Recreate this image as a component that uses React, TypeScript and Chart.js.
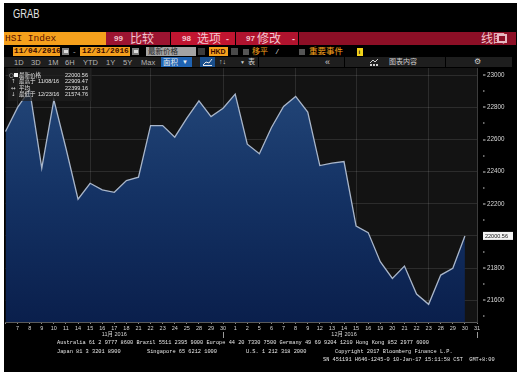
import React, { useEffect, useRef } from 'react';
import { Chart, registerables } from 'chart.js';

Chart.register(...registerables);

// ---------- data ----------
const dates = [
  '11/04', '11/07', '11/08', '11/09', '11/10', '11/11', '11/14', '11/15', '11/16', '11/17',
  '11/18', '11/21', '11/22', '11/23', '11/24', '11/25', '11/28', '11/29', '11/30', '12/01',
  '12/02', '12/05', '12/06', '12/07', '12/08', '12/09', '12/12', '12/13', '12/14', '12/15',
  '12/16', '12/19', '12/20', '12/21', '12/22', '12/23', '12/28', '12/29', '12/30', '12/31',
];
const closes: (number | null)[] = [
  22650, 22800, 22909, 22422, 22847, 22546, 22229, 22328, 22287, 22272,
  22345, 22366, 22687, 22687, 22615, 22733, 22841, 22743, 22795, 22883,
  22571, 22511, 22675, 22806, 22868, 22771, 22438, 22453, 22463, 22062,
  22021, 21840, 21736, 21813, 21639, 21575, 21757, 21799, 22000.56, null,
];
const monthLabels: Record<string, string> = { '11/17': '11月 2016', '12/14': '12月 2016' };
const gridDates = ['11/07', '11/15', '11/22', '11/30', '12/08', '12/15', '12/23', '12/31'];
const monthSepDates = ['11/30', '12/31'];
const yMin = 21465;
const yMax = 23045;
const yMinorStep = 100;
const yMajorStep = 200;
const lastValueLabel = '22000.56';

const legendIcons = ['○', '↑', '↔', '↓'];
const legendNames = ['最新价格', '最高于', '平均', '最低于'];
const legendDates = ['', '11/08/16', '', '12/23/16'];
const legendValues = ['22000.56', '22909.47', '22399.16', '21574.76'];

const periodButtons = ['1D', '3D', '1M', '6H', 'YTD', '1Y', '5Y', 'Max'];
const periodX = [14, 31, 48, 65, 83, 106, 123, 141];

const footer1 = 'Australia 61 2 9777 8600 Brazil 5511 2395 9000 Europe 44 20 7330 7500 Germany 49 69 9204 1210 Hong Kong 852 2977 6000';
const footer2 = [
  ['Japan 81 3 3201 8900', 57],
  ['Singapore 65 6212 1000', 147],
  ['U.S. 1 212 318 2000', 246],
  ['Copyright 2017 Bloomberg Finance L.P.', 335],
] as [string, number][];
const footer3 = 'SN 451191 H646-1245-0 10-Jan-17 15:11:58 CST  GMT+8:00';

// ---------- fonts / colors ----------
const SANS = '"Liberation Sans", "Noto Sans CJK SC", Arial, sans-serif';
const MONO = '"Liberation Mono", "DejaVu Sans Mono", "Noto Sans CJK SC", monospace';
const ORANGE = '#f5a01c';

const Box = ({ x, y, w, h, bg, style }: any) => (
  <div style={{ position: 'absolute', left: x, top: y, width: w, height: h, background: bg, ...style }} />
);

const Txt = ({ x, y, size, color, family, weight, children, w, align, style }: any) => (
  <div
    style={{
      position: 'absolute',
      left: x,
      top: y - size,
      height: size * 2,
      lineHeight: `${size * 2}px`,
      fontSize: size,
      color,
      fontFamily: family || SANS,
      fontWeight: weight || 'normal',
      whiteSpace: 'pre',
      width: w,
      textAlign: align,
      ...style,
    }}
  >
    {children}
  </div>
);

const chartPlugin = {
  id: 'bbgDecor',
  beforeDraw(chart: any) {
    const { ctx, chartArea: a } = chart;
    ctx.save();
    ctx.fillStyle = '#000';
    ctx.fillRect(0, 0, chart.width, chart.height);
    ctx.fillStyle = '#131313';
    ctx.fillRect(a.left, a.top, a.right - a.left, a.bottom - a.top);
    ctx.restore();
  },
  afterDraw(chart: any) {
    const { ctx, chartArea: a } = chart;
    const y = chart.scales.y;
    const x = chart.scales.x;
    ctx.save();
    // small tick dashes on right axis
    ctx.fillStyle = '#cfcfcf';
    y.ticks.forEach((t: any) => {
      const py = y.getPixelForValue(t.value);
      const major = t.value % yMajorStep === 0;
      ctx.fillRect(a.right + 6, Math.round(py) - 0.5, major ? 2.5 : 1.5, 1);
    });
    // month separators
    ctx.strokeStyle = '#9a9a9a';
    ctx.lineWidth = 1;
    monthSepDates.forEach((d) => {
      const i = dates.indexOf(d);
      const px = Math.round(x.getPixelForValue(i)) + 0.5;
      ctx.beginPath();
      ctx.moveTo(px, a.bottom + 10);
      ctx.lineTo(px, a.bottom + 16);
      ctx.stroke();
    });
    // last value box
    const lastIdx = closes.length - 2;
    const v = closes[lastIdx] as number;
    const py = y.getPixelForValue(v);
    ctx.fillStyle = '#f4f4f4';
    ctx.fillRect(a.right + 6, py - 4, 30, 8);
    ctx.fillStyle = '#111';
    ctx.font = '5.5px "Liberation Sans", Arial, sans-serif';
    ctx.textBaseline = 'middle';
    ctx.textAlign = 'left';
    ctx.fillText(lastValueLabel, a.right + 8, py + 0.5);
    ctx.restore();
  },
};

function PriceChart() {
  const ref = useRef<HTMLCanvasElement>(null);
  useEffect(() => {
    const canvas = ref.current!;
    const gridColor = 'rgba(255,255,255,0.11)';
    const chart = new Chart(canvas, {
      type: 'line',
      data: {
        labels: dates,
        datasets: [
          {
            data: closes,
            borderColor: '#a9b6ca',
            borderWidth: 1.3,
            pointRadius: 0,
            tension: 0,
            spanGaps: false,
            fill: 'start',
            backgroundColor: (c: any) => {
              const ch = c.chart;
              const a = ch.chartArea;
              if (!a) return '#163462';
              const g = ch.ctx.createLinearGradient(0, a.top, 0, a.bottom);
              g.addColorStop(0, '#25497b');
              g.addColorStop(0.5, '#143264');
              g.addColorStop(1, '#0a1f4c');
              return g;
            },
          },
        ],
      },
      options: {
        responsive: false,
        animation: false,
        devicePixelRatio: 1,
        layout: { padding: { left: 1.5, top: 1, right: 0, bottom: 0 } },
        plugins: { legend: { display: false }, tooltip: { enabled: false } },
        scales: {
          x: {
            type: 'category',
            offset: false,
            z: 1,
            grid: {
              offset: false,
              color: (c: any) => (gridDates.includes(dates[c.index]) ? gridColor : 'rgba(0,0,0,0)'),
              drawTicks: true,
              tickLength: 2,
              tickColor: '#8a8a8a',
            },
            border: { color: '#5a5a5a' },
            ticks: {
              autoSkip: false,
              maxRotation: 0,
              minRotation: 0,
              padding: 1,
              color: '#d4d4d4',
              font: { family: '"Liberation Sans", "Noto Sans CJK SC", sans-serif', size: 5.5, lineHeight: 1.1 },
              callback: (_v: any, i: number) => {
                if (i === 0) return '';
                const d = dates[i];
                const day = String(parseInt(d.slice(3), 10));
                return monthLabels[d] ? [day, monthLabels[d]] : day;
              },
            },
            afterFit: (s: any) => {
              s.height = 18;
              s.paddingLeft = 0;
              s.paddingRight = 0;
            },
          },
          y: {
            position: 'right',
            min: yMin,
            max: yMax,
            z: 1,
            grid: {
              color: (c: any) => (c.tick && c.tick.value % yMajorStep === 0 ? gridColor : 'rgba(0,0,0,0)'),
              drawTicks: false,
            },
            border: { color: '#3c3c3c' },
            ticks: {
              stepSize: yMinorStep,
              includeBounds: false,
              autoSkip: false,
              padding: 10,
              color: '#d8d8d8',
              font: { family: '"Liberation Sans", Arial, sans-serif', size: 6.3 },
              callback: (v: any) => (Number(v) % yMajorStep === 0 ? String(v) : ''),
            },
            afterFit: (s: any) => {
              s.width = 40;
              s.paddingTop = 0;
              s.paddingBottom = 0;
            },
          },
        },
      },
      plugins: [chartPlugin],
    } as any);
    return () => chart.destroy();
  }, []);
  return <canvas ref={ref} width={513} height={273} style={{ position: 'absolute', left: 4, top: 67, width: 513, height: 273 }} />;
}

export default function App() {
  return (
    <div style={{ position: 'fixed', left: 0, top: 0, width: 520, height: 375, background: '#fff', overflow: 'hidden' }}>
      <Box x={4} y={3} w={513} h={369} bg="#000" />

      {/* title */}
      <Txt x={13} y={13.5} size={13} color="#e2e2e2" style={{ transform: 'scaleX(0.72)', transformOrigin: 'left center' }}>GRAB</Txt>

      {/* row 1 */}
      <Box x={4} y={32} w={102} h={13} bg={ORANGE} />
      <Txt x={5} y={38.5} size={9.5} family={MONO} color="#5a1000">HSI Index</Txt>
      <Box x={106} y={32} w={64} h={13} bg="#9c1431" />
      <Txt x={114} y={38.5} size={8} color="#f2c6cf" weight="bold">99</Txt>
      <Txt x={130} y={38.5} size={12} color="#f2c6cf">比较</Txt>
      <Box x={171} y={32} w={64} h={13} bg="#c01530" />
      <Txt x={182} y={38.5} size={8} color="#f2c6cf" weight="bold">98</Txt>
      <Txt x={197} y={38.5} size={12} color="#f2c6cf">选项</Txt>
      <Txt x={226} y={38.5} size={9} color="#f2c6cf" weight="bold">-</Txt>
      <Box x={236} y={32} w={62} h={13} bg="#b0132e" />
      <Txt x={246} y={38.5} size={8} color="#f2c6cf" weight="bold">97</Txt>
      <Txt x={257} y={38.5} size={12} color="#f2c6cf">修改</Txt>
      <Txt x={292} y={38.5} size={9} color="#f2c6cf" weight="bold">-</Txt>
      <Box x={299} y={32} w={217} h={13} bg="#8d0f26" />
      <Txt x={481} y={38.5} size={12} color="#f2c6cf">线图</Txt>
      <Box x={497} y={34} w={10} h={9} bg="#e6b9c2" />
      <Box x={499} y={36} w={6} h={5} bg="#8d0f26" />

      {/* row 2 */}
      <Box x={13} y={47} w={47} h={9} bg={ORANGE} />
      <Txt x={14} y={51.5} size={7.8} family={MONO} weight="bold" color="#3a0a00">11/04/2016</Txt>
      <Box x={62} y={48} w={7} h={7} bg="#808080" />
      <Box x={63.5} y={50} w={4} h={3} bg="#ddd" />
      <Txt x={73} y={51.5} size={8} color="#aaa">-</Txt>
      <Box x={80} y={47} w={50} h={9} bg={ORANGE} />
      <Txt x={82} y={51.5} size={7.8} family={MONO} weight="bold" color="#3a0a00">12/31/2016</Txt>
      <Box x={132} y={48} w={7} h={7} bg="#808080" />
      <Box x={133.5} y={50} w={4} h={3} bg="#ddd" />
      <Box x={146} y={47} w={50} h={9} bg="#a4a4a4" />
      <Txt x={148} y={51.5} size={7.5} color="#2a2a2a">最新价格</Txt>
      <Box x={198} y={48} w={7} h={7} bg="#3c3c3c" />
      <Box x={209} y={47} w={19} h={9} bg={ORANGE} />
      <Txt x={210.5} y={51.5} size={7} weight="bold" color="#3a0a00">HKD</Txt>
      <Box x={231} y={48} w={7} h={7} bg="#4a4a4a" />
      <Box x={243} y={48.5} w={6} h={6} bg="#555" />
      <Txt x={252} y={51.5} size={8} color={ORANGE}>移平</Txt>
      <Txt x={276} y={51.5} size={8} color="#ddd" style={{ fontStyle: 'italic' }}>/</Txt>
      <Box x={299} y={48.5} w={6} h={6} bg="#555" />
      <Txt x={309} y={51.5} size={8.5} color={ORANGE}>重要事件</Txt>
      <Box x={357} y={47.5} w={6} h={8} bg="#f2d21a" />
      <Txt x={358.5} y={51.5} size={6} weight="bold" color="#222">i</Txt>

      {/* row 3 */}
      <Box x={4} y={57} w={254} h={10} bg="#1e1e1e" />
      {periodButtons.map((b, i) => (
        <Txt key={b} x={periodX[i]} y={62} size={7.5} color="#b4b4b4">{b}</Txt>
      ))}
      <Box x={161} y={57} w={31} h={10} bg="#1f63b2" />
      <Txt x={163} y={62} size={7.5} color="#f0f0f0">面积</Txt>
      <Txt x={182} y={62} size={6} color="#f0f0f0">▼</Txt>
      <Box x={200} y={57} w={15} h={10} bg="#1a4f8c" />
      <svg style={{ position: 'absolute', left: 200, top: 57 }} width={15} height={10}>
        <polyline points="3,8 6,5 9,6 12,2" fill="none" stroke="#e8e8e8" strokeWidth={1} />
        <line x1={3} y1={8.5} x2={12} y2={8.5} stroke="#e8e8e8" strokeWidth={1} />
      </svg>
      <Txt x={219} y={62} size={7} color="#d8d8d8">↑↓</Txt>
      <Txt x={240} y={62} size={5} color="#cfcfcf">▼</Txt>
      <Txt x={248} y={62} size={7} color="#cfcfcf">表</Txt>
      <Box x={259} y={57} w={85} h={10} bg="#1e1e1e" />
      <Txt x={325} y={61.5} size={9} color="#cfcfcf">«</Txt>
      <Box x={345} y={57} w={100} h={10} bg="#1e1e1e" />
      <svg style={{ position: 'absolute', left: 369, top: 58 }} width={10} height={8}>
        <polyline points="1,5 4,2 6,4 9,1" fill="none" stroke="#cfcfcf" strokeWidth={1} />
        <rect x={1} y={6} width={2} height={2} fill="#cfcfcf" />
        <rect x={4} y={6} width={2} height={2} fill="#cfcfcf" />
        <rect x={7} y={6} width={2} height={2} fill="#cfcfcf" />
      </svg>
      <Txt x={389} y={62} size={7} color="#cfcfcf">图表内容</Txt>
      <Box x={446} y={57} w={66} h={10} bg="#1e1e1e" />
      <Txt x={474} y={62} size={8} color="#cfcfcf" family='"DejaVu Sans", sans-serif'>⚙</Txt>

      {/* chart */}
      <PriceChart />

      {/* legend overlay */}
      <Box x={8} y={68} w={84} h={33} bg="rgba(30,30,30,0.72)" />
      {legendNames.map((n, i) => {
        const yc = 75 + i * 6.6;
        return (
          <React.Fragment key={n}>
            <Txt x={i === 0 ? 9 : 11} y={yc} size={5.5} color="#d8d8d8" family='"DejaVu Sans", sans-serif'>{legendIcons[i]}</Txt>
            {i === 0 && <Box x={13.5} y={yc - 2} w={4} h={4} bg="#f4f4f4" />}
            <Txt x={19} y={yc} size={5.5} color="#e4e4e4">{n}</Txt>
            {legendDates[i] && <Txt x={38} y={yc} size={5.5} color="#e4e4e4">{legendDates[i]}</Txt>}
            <Txt x={48} y={yc} w={40} align="right" size={5.5} color="#e4e4e4">{legendValues[i]}</Txt>
          </React.Fragment>
        );
      })}

      {/* footer */}
      <Txt x={57} y={343} size={5.3} family={MONO} color="#e6e6e6">{footer1}</Txt>
      {footer2.map(([t, x]) => (
        <Txt key={t} x={x} y={352} size={5.3} family={MONO} color="#e6e6e6">{t}</Txt>
      ))}
      <Txt x={323} y={360.5} size={5.3} family={MONO} color="#e6e6e6">{footer3}</Txt>
    </div>
  );
}
